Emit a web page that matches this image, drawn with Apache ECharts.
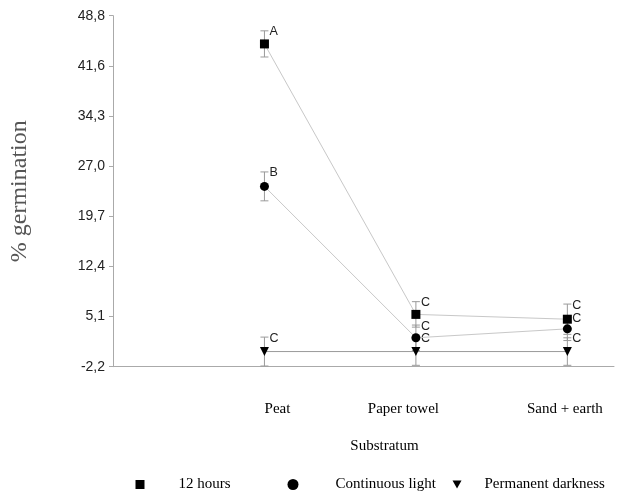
<!DOCTYPE html>
<html>
<head>
<meta charset="utf-8">
<script src="https://cdn.jsdelivr.net/npm/echarts@6/dist/echarts.min.js"></script>
<style>html,body{margin:0;padding:0;background:#fff;}#c{width:617px;height:493px;}</style>
</head>
<body>
<div id="c"></div>
<script>
var categories = ['Peat', 'Paper towel', 'Sand + earth'];
var seriesNames = ['12 hours', 'Continuous light', 'Permanent darkness'];
var hours12 = [44.7, 5.4, 4.7];
var hours12Err = [1.9, 1.85, 2.2];
var hours12Letters = ['A', 'C', 'C'];
var contLight = [24.0, 2.0, 3.3];
var contLightErr = [2.1, 1.85, 1.7];
var contLightLetters = ['B', 'C', 'C'];
var darkness = [0.0, 0.0, 0.0];
var darknessErr = [2.1, 2.0, 2.0];
var darknessLetters = ['C', 'C', 'C'];
var yTickLabels = ['-2,2', '5,1', '12,4', '19,7', '27,0', '34,3', '41,6', '48,8'];
var yMin = -2.2, yMax = 48.8;
var yStep = (yMax - yMin) / 7;

var SANS = '"Liberation Sans", Arial, sans-serif';
var SERIF = '"Liberation Serif", "Times New Roman", serif';
var TRI = 'path://M0,0L10,0L5,9Z';

function pts(vals) { return vals.map(function (v, i) { return [i + 1, v]; }); }
function errData(vals, errs, letters) {
  return vals.map(function (v, i) { return [i + 1, v - errs[i], v + errs[i], letters[i]]; });
}
function errSeries(vals, errs, letters) {
  return {
    type: 'custom',
    data: errData(vals, errs, letters),
    z: 3,
    silent: true,
    encode: { x: 0, y: [1, 2] },
    renderItem: function (params, api) {
      var lo = api.coord([api.value(0), api.value(1)]);
      var hi = api.coord([api.value(0), api.value(2)]);
      var letter = letters[params.dataIndex];
      var s = { stroke: '#9a9a9a', lineWidth: 1 };
      return {
        type: 'group',
        children: [
          { type: 'line', shape: { x1: hi[0], y1: hi[1], x2: lo[0], y2: lo[1] }, style: s },
          { type: 'line', shape: { x1: hi[0] - 4, y1: hi[1], x2: hi[0] + 4, y2: hi[1] }, style: s },
          { type: 'line', shape: { x1: lo[0] - 4, y1: lo[1], x2: lo[0] + 4, y2: lo[1] }, style: s },
          { type: 'text', style: { text: letter, x: hi[0] + 5, y: hi[1] + 1, fill: '#222', font: '12.5px ' + SANS, verticalAlign: 'middle', align: 'left' } }
        ]
      };
    }
  };
}
function lineSeries(name, vals, symbol, size, lineColor) {
  return {
    name: name, type: 'line', data: pts(vals), symbol: symbol, symbolSize: size,
    z: 5, silent: true,
    itemStyle: { color: '#000', borderWidth: 0 },
    lineStyle: { color: lineColor, width: 1 }
  };
}

var rich = {
  a: { padding: [0, 0, 0, 26], fontFamily: SERIF, fontSize: 15, color: '#000' },
  b: { padding: [0, 25, 0, 0], fontFamily: SERIF, fontSize: 15, color: '#000' },
  c: { padding: [0, 5, 0, 0], fontFamily: SERIF, fontSize: 15, color: '#000' }
};
var richKeys = ['a', 'b', 'c'];

function legendFor(name, icon, left, w, h, pad) {
  return {
    data: [{ name: name, icon: icon }],
    left: left, top: 477, padding: 0, itemWidth: w, itemHeight: h, selectedMode: false,
    textStyle: { fontFamily: SERIF, fontSize: 15, color: '#000', padding: [0, 0, 0, pad] }
  };
}

var chart = echarts.init(document.getElementById('c'));
chart.setOption({
  animation: false,
  backgroundColor: '#fff',
  grid: { left: 112, right: 0, top: 15.7, bottom: 126.3 },
  legend: [
    legendFor(seriesNames[0], 'rect', 135.5, 9, 9, 29),
    legendFor(seriesNames[1], 'circle', 287.5, 11, 11, 32),
    legendFor(seriesNames[2], TRI, 452.5, 9, 9, 18)
  ],
  xAxis: {
    type: 'value', min: 0, max: 3.308, interval: 1,
    name: 'Substratum', nameLocation: 'middle', nameGap: 72,
    nameTextStyle: { fontFamily: SERIF, fontSize: 15, color: '#000', padding: [0, 0, 0, 42] },
    axisLine: { show: true, onZero: false, lineStyle: { color: '#aaa', width: 1 } },
    axisTick: { show: false },
    splitLine: { show: false },
    axisLabel: {
      margin: 35,
      formatter: function (v) {
        var i = Math.round(v) - 1;
        if (Math.abs(v - Math.round(v)) > 1e-6 || i < 0 || i >= categories.length) return '';
        return '{' + richKeys[i] + '|' + categories[i] + '}';
      },
      rich: rich
    }
  },
  yAxis: {
    type: 'value', min: yMin, max: yMax, interval: yStep,
    name: '% germination', nameLocation: 'middle', nameGap: 81, nameRotate: 90,
    nameTextStyle: { fontFamily: SERIF, fontSize: 24, color: '#555' },
    axisLine: { show: true, lineStyle: { color: '#aaa', width: 1 } },
    axisTick: { show: true, length: 4, lineStyle: { color: '#aaa' } },
    splitLine: { show: false },
    axisLabel: {
      margin: 8, fontFamily: SANS, fontSize: 14, color: '#222',
      formatter: function (v) {
        var i = Math.round((v - yMin) / yStep);
        return yTickLabels[i] !== undefined ? yTickLabels[i] : '';
      }
    }
  },
  series: [
    errSeries(hours12, hours12Err, hours12Letters),
    errSeries(contLight, contLightErr, contLightLetters),
    errSeries(darkness, darknessErr, darknessLetters),
    lineSeries(seriesNames[0], hours12, 'rect', 9, '#c8c8c8'),
    lineSeries(seriesNames[1], contLight, 'circle', 9, '#c8c8c8'),
    lineSeries(seriesNames[2], darkness, TRI, 9, '#9a9a9a')
  ]
});
</script>
</body>
</html>
